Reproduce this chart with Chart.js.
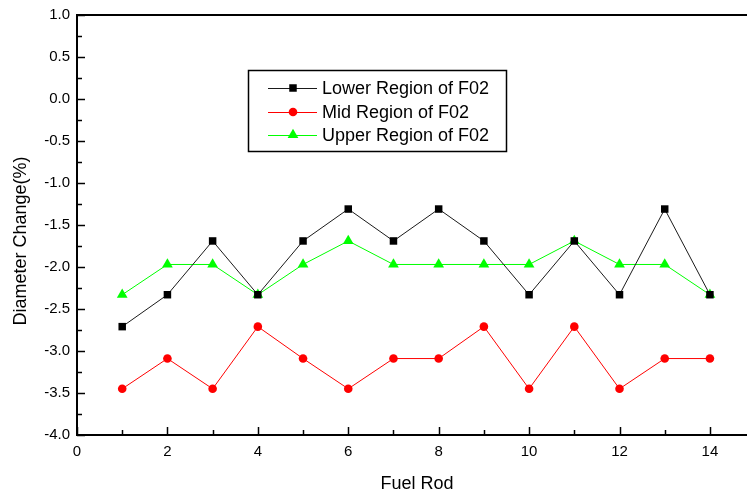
<!DOCTYPE html>
<html>
<head>
<meta charset="utf-8">
<script src="https://cdn.jsdelivr.net/npm/chart.js@4.4.1/dist/chart.umd.min.js"></script>
<style>
  html, body { margin: 0; padding: 0; background: #fff; overflow: hidden; }
  #wrap { width: 747px; height: 498px; }
</style>
</head>
<body>
<div id="wrap"><canvas id="chart" width="747" height="498"></canvas></div>
<script>
const fuelRods = [1, 2, 3, 4, 5, 6, 7, 8, 9, 10, 11, 12, 13, 14];
const lowerRegion = [-2.71, -2.33, -1.69, -2.33, -1.69, -1.31, -1.69, -1.31, -1.69, -2.33, -1.69, -2.33, -1.31, -2.33];
const midRegion = [-3.45, -3.09, -3.45, -2.71, -3.09, -3.45, -3.09, -3.09, -2.71, -3.45, -2.71, -3.45, -3.09, -3.09];
const upperRegion = [-2.33, -1.97, -1.97, -2.33, -1.97, -1.69, -1.97, -1.97, -1.97, -1.97, -1.69, -1.97, -1.97, -2.33];
const seriesNames = ["Lower Region of F02", "Mid Region of F02", "Upper Region of F02"];

const FONT = "'Liberation Sans', Arial, sans-serif";

function toPoints(values) {
  return fuelRods.map((x, i) => ({ x, y: values[i] }));
}

function marker(ctx, style, x, y, r, color) {
  ctx.save();
  ctx.fillStyle = color;
  ctx.beginPath();
  if (style === "rect") {
    const s = r * Math.SQRT1_2;
    ctx.rect(x - s, y - s, 2 * s, 2 * s);
  } else if (style === "triangle") {
    for (let k = 0; k < 3; k++) {
      const a = k * 2 * Math.PI / 3;
      const px = x + Math.sin(a) * r;
      const py = y - Math.cos(a) * r;
      if (k === 0) ctx.moveTo(px, py); else ctx.lineTo(px, py);
    }
    ctx.closePath();
  } else {
    ctx.arc(x, y, r, 0, Math.PI * 2);
  }
  ctx.fill();
  ctx.restore();
}

// inward ticks, top frame line, axis titles and the boxed legend
const decorations = {
  id: "decorations",
  afterDraw(chart) {
    const { ctx, chartArea } = chart;
    const xs = chart.scales.x;
    const ys = chart.scales.y;
    ctx.save();
    ctx.strokeStyle = "#000";
    ctx.lineWidth = 1.5;

    for (let v = 0; v <= 14; v++) {
      const px = Math.round(xs.getPixelForValue(v)) + 0.5;
      const len = v % 2 === 0 ? 8 : 5;
      ctx.beginPath();
      ctx.moveTo(px, chartArea.bottom);
      ctx.lineTo(px, chartArea.bottom - len);
      ctx.stroke();
    }
    for (let v = -4; v <= 1.001; v += 0.25) {
      const py = Math.round(ys.getPixelForValue(v)) + 0.5;
      const major = Math.abs(v * 2 - Math.round(v * 2)) < 1e-6;
      ctx.beginPath();
      ctx.moveTo(chartArea.left, py);
      ctx.lineTo(chartArea.left + (major ? 8 : 5), py);
      ctx.stroke();
    }

    ctx.lineWidth = 2;
    ctx.beginPath();
    ctx.moveTo(chartArea.left, chartArea.top);
    ctx.lineTo(chart.width, chartArea.top);
    ctx.stroke();

    ctx.fillStyle = "#000";
    ctx.font = "18px " + FONT;
    ctx.textAlign = "center";
    ctx.textBaseline = "middle";
    ctx.fillText("Fuel Rod", 417, 484);
    ctx.save();
    ctx.translate(21, 241);
    ctx.rotate(-Math.PI / 2);
    ctx.fillText("Diameter Change(%)", 0, 0);
    ctx.restore();

    ctx.lineWidth = 1.5;
    ctx.strokeRect(248.5, 70.5, 258, 81);
    const rowY = [88, 112, 135];
    chart.data.datasets.forEach((ds, i) => {
      ctx.strokeStyle = ds.borderColor;
      ctx.lineWidth = 1;
      ctx.beginPath();
      ctx.moveTo(268, rowY[i] + 0.5);
      ctx.lineTo(317, rowY[i] + 0.5);
      ctx.stroke();
      marker(ctx, ds.pointStyle, 293, rowY[i], ds.pointRadius, ds.pointBackgroundColor);
      ctx.fillStyle = "#000";
      ctx.textAlign = "left";
      ctx.fillText(ds.label, 322, rowY[i] + 1);
    });
    ctx.restore();
  },
};

new Chart(document.getElementById("chart"), {
  type: "line",
  data: {
    datasets: [
      {
        label: seriesNames[0],
        data: toPoints(lowerRegion),
        borderColor: "#1a1a1a",
        borderWidth: 1,
        pointStyle: "rect",
        pointRadius: 5.3,
        pointBackgroundColor: "#000",
        pointBorderWidth: 0,
      },
      {
        label: seriesNames[1],
        data: toPoints(midRegion),
        borderColor: "#ff0000",
        borderWidth: 1,
        pointStyle: "circle",
        pointRadius: 4.3,
        pointBackgroundColor: "#ff0000",
        pointBorderWidth: 0,
      },
      {
        label: seriesNames[2],
        data: toPoints(upperRegion),
        borderColor: "#00ff00",
        borderWidth: 1,
        pointStyle: "triangle",
        pointRadius: 6.2,
        pointBackgroundColor: "#00ff00",
        pointBorderWidth: 0,
      },
    ],
  },
  options: {
    responsive: false,
    animation: false,
    layout: { autoPadding: false, padding: { top: 15, right: 0, bottom: 0, left: 0 } },
    plugins: { legend: { display: false }, tooltip: { enabled: false } },
    scales: {
      x: {
        type: "linear",
        min: 0,
        max: 14.82,
        grid: { display: false, drawTicks: false },
        border: { display: true, color: "#000", width: 2 },
        ticks: {
          stepSize: 2,
          includeBounds: false,
          padding: 8,
          color: "#000",
          font: { family: FONT, size: 15 },
          maxRotation: 0,
        },
        afterFit(scale) {
          scale.height = 63;
          scale.paddingLeft = 0;
          scale.paddingRight = 0;
        },
      },
      y: {
        min: -4,
        max: 1,
        grid: { display: false, drawTicks: false },
        border: { display: true, color: "#000", width: 2 },
        ticks: {
          stepSize: 0.5,
          padding: 7,
          color: "#000",
          font: { family: FONT, size: 15 },
          callback: (v) => v.toFixed(1),
        },
        afterFit(scale) {
          scale.width = 77;
          scale.paddingTop = 0;
          scale.paddingBottom = 0;
        },
      },
    },
  },
  plugins: [decorations],
});
</script>
</body>
</html>
